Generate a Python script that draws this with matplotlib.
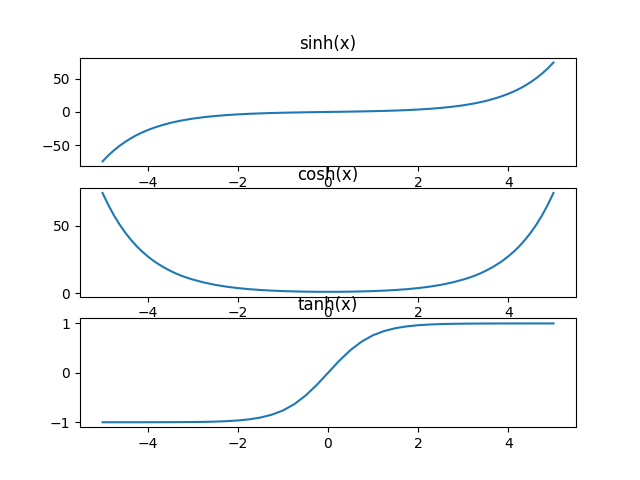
import matplotlib
matplotlib.use("Agg")
import matplotlib.pyplot as plt

# x positions read along the axis (denser where the curves bend hard)
x = [-5.0, -4.875, -4.75, -4.625, -4.5, -4.375, -4.25, -4.125, -4.0,
     -3.875, -3.75, -3.625, -3.5, -3.375, -3.25, -3.125, -3.0,
     -2.75, -2.5, -2.25, -2.0, -1.75, -1.5, -1.25, -1.0, -0.75, -0.5, -0.25, 0.0,
     0.25, 0.5, 0.75, 1.0, 1.25, 1.5, 1.75, 2.0, 2.25, 2.5, 2.75,
     3.0, 3.125, 3.25, 3.375, 3.5, 3.625, 3.75, 3.875,
     4.0, 4.125, 4.25, 4.375, 4.5, 4.625, 4.75, 4.875, 5.0]

# values
sinh_vals = [-74.2, -65.5, -57.8, -51.0, -45.0, -39.7, -35.0, -30.9, -27.3,
             -24.1, -21.3, -18.8, -16.5, -14.6, -12.9, -11.4, -10.0,
             -7.8, -6.05, -4.69, -3.63, -2.79, -2.13, -1.60, -1.18, -0.82, -0.52, -0.25, 0.0,
             0.25, 0.52, 0.82, 1.18, 1.60, 2.13, 2.79, 3.63, 4.69, 6.05, 7.8,
             10.0, 11.4, 12.9, 14.6, 16.5, 18.8, 21.3, 24.1,
             27.3, 30.9, 35.0, 39.7, 45.0, 51.0, 57.8, 65.5, 74.2]

cosh_vals = [74.2, 65.5, 57.8, 51.0, 45.0, 39.7, 35.0, 30.9, 27.3,
             24.1, 21.3, 18.8, 16.6, 14.6, 12.9, 11.4, 10.1,
             7.9, 6.13, 4.80, 3.76, 2.96, 2.35, 1.89, 1.54, 1.29, 1.13, 1.03, 1.0,
             1.03, 1.13, 1.29, 1.54, 1.89, 2.35, 2.96, 3.76, 4.80, 6.13, 7.9,
             10.1, 11.4, 12.9, 14.6, 16.6, 18.8, 21.3, 24.1,
             27.3, 30.9, 35.0, 39.7, 45.0, 51.0, 57.8, 65.5, 74.2]

tanh_vals = [-1.0, -1.0, -1.0, -1.0, -1.0, -1.0, -1.0, -0.9995, -0.9993,
             -0.9991, -0.999, -0.9986, -0.998, -0.9977, -0.997, -0.9962, -0.995,
             -0.992, -0.987, -0.978, -0.964, -0.941, -0.905, -0.848, -0.762, -0.635, -0.462, -0.245, 0.0,
             0.245, 0.462, 0.635, 0.762, 0.848, 0.905, 0.941, 0.964, 0.978, 0.987, 0.992,
             0.995, 0.9962, 0.997, 0.9977, 0.998, 0.9986, 0.999, 0.9991,
             0.9993, 0.9995, 1.0, 1.0, 1.0, 1.0, 1.0, 1.0, 1.0]

titles = ["sinh(x)", "cosh(x)", "tanh(x)"]

fig, axes = plt.subplots(3, 1, figsize=(6.4, 4.8), dpi=100)

for ax, vals, title in zip(axes, [sinh_vals, cosh_vals, tanh_vals], titles):
    ax.plot(x, vals)
    ax.set_title(title)

fig.savefig("out.png")
